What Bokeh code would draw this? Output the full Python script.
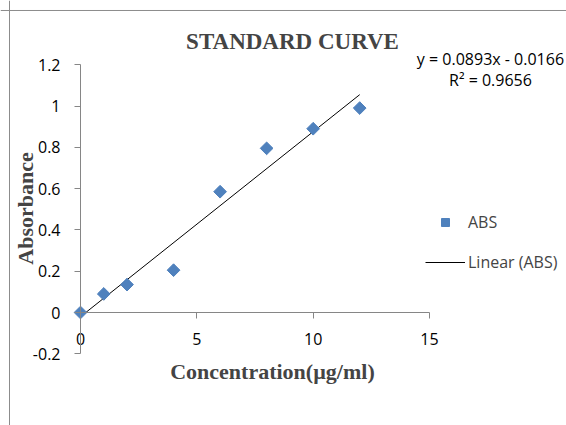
import numpy as np
from bokeh.plotting import figure
from bokeh.models import (Range1d, FixedTicker, Label, Legend, LegendItem, Span)
from bokeh.embed import file_html
from bokeh.resources import INLINE

# ---- data ----
concentration = [0, 1, 2, 4, 6, 8, 10, 12]
absorbance = [0, 0.09, 0.135, 0.205, 0.585, 0.795, 0.89, 0.99]

x_ticks = [0, 5, 10, 15]
y_ticks = [-0.2, 0, 0.2, 0.4, 0.6, 0.8, 1.0, 1.2]
y_tick_labels = ["-0.2", "0", "0.2", "0.4", "0.6", "0.8", "1", "1.2"]

title_text = "STANDARD CURVE"
x_title = "Concentration(\u00b5g/ml)"
y_title = "Absorbance"
series_name = "ABS"
trend_name = "Linear (ABS)"
equation_text = "y = 0.0893x - 0.0166"
r2_text = "R\u00b2 = 0.9656"

# ---- styling ----
BLUE = "#4F81BD"
AXIS = "#868686"
SANS = "Open Sans"
SERIF = "Liberation Serif"

# the frame fills the whole canvas; axes sit at fixed data positions
p = figure(width=566, height=425, output_backend="svg", toolbar_location=None,
           title=None,
           x_range=Range1d(-3.4384, 20.888), y_range=Range1d(-0.5472, 1.5109),
           min_border_left=0, min_border_right=0, min_border_top=0,
           min_border_bottom=0)
p.outline_line_color = None
p.xgrid.visible = False
p.ygrid.visible = False

# chart-area border (left and top edges visible in the reference)
p.add_layout(Span(location=-3.0515, dimension="height", line_color="#8c8c8c",
                  line_width=1))
p.add_layout(Span(location=1.4625, dimension="width", line_color="#8c8c8c",
                  line_width=1))

p.xaxis.fixed_location = 0
p.xaxis.bounds = (x_ticks[0], x_ticks[-1])
p.xaxis.ticker = FixedTicker(ticks=x_ticks)
p.xaxis.major_tick_in = 0
p.xaxis.major_tick_out = 6
p.xaxis.major_label_standoff = 14
p.yaxis.fixed_location = 0
p.yaxis.bounds = (y_ticks[0], y_ticks[-1])
p.yaxis.ticker = FixedTicker(ticks=y_ticks)
p.yaxis.major_label_overrides = {t: l for t, l in zip(y_ticks, y_tick_labels)}
p.yaxis.major_tick_in = 0
p.yaxis.major_tick_out = 6
p.yaxis.major_label_standoff = 14
for ax in (p.xaxis, p.yaxis):
    ax.axis_line_color = AXIS
    ax.major_tick_line_color = AXIS
    ax.minor_tick_line_color = None
    ax.major_label_text_font = SANS
    ax.major_label_text_font_size = "16px"
    ax.major_label_text_color = "#000000"

# trendline from least squares fit of the data
slope, intercept = np.polyfit(concentration, absorbance, 1)
tx = [min(concentration), max(concentration)]
ty = [slope * v + intercept for v in tx]
line_r = p.line(tx, ty, line_color="black", line_width=1)

pts = p.scatter(concentration, absorbance, marker="square", angle=np.pi / 4,
                size=9, fill_color=BLUE, line_color=BLUE)

legend = Legend(items=[LegendItem(label=series_name, renderers=[pts]),
                       LegendItem(label=trend_name, renderers=[line_r])],
                location=(425, 152), padding=0, margin=0, spacing=18,
                glyph_width=40, glyph_height=20, label_height=20,
                label_standoff=3, label_text_font=SANS,
                label_text_font_size="16px",
                background_fill_alpha=0, border_line_alpha=0)
p.add_layout(legend)

p.add_layout(Label(x=9.112, y=1.3123, text=title_text, text_font=SERIF,
                   text_font_size="23px", text_font_style="bold",
                   text_align="center", text_baseline="middle"))

for txt, yy in ((equation_text, 1.230), (r2_text, 1.1235)):
    p.add_layout(Label(x=17.62, y=yy, text=txt, text_font=SANS,
                       text_font_size="16px", text_align="center",
                       text_baseline="middle", text_color="#000000"))

p.add_layout(Label(x=8.25, y=-0.2857, text=x_title, text_font=SERIF,
                   text_font_size="22px", text_font_style="bold",
                   text_align="center", text_baseline="middle"))
p.add_layout(Label(x=-2.364, y=0.5036, text=y_title, text_font=SERIF,
                   text_font_size="22px", text_font_style="bold",
                   text_align="center", text_baseline="middle",
                   angle=np.pi / 2))

open("out.html", "w").write(file_html(p, INLINE))
